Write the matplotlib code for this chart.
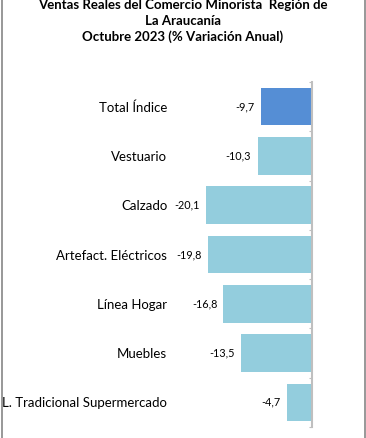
import matplotlib
matplotlib.use("Agg")
import matplotlib.pyplot as plt
from matplotlib.lines import Line2D

categories = ["Total Índice", "Vestuario", "Calzado", "Artefact. Eléctricos",
              "Línea Hogar", "Muebles", "L. Tradicional Supermercado"]
values = [-9.7, -10.3, -20.1, -19.8, -16.8, -13.5, -4.7]
value_labels = ["-9,7", "-10,3", "-20,1", "-19,8", "-16,8", "-13,5", "-4,7"]
colors = ["#558ED5"] + ["#93CDDD"] * 6
title_lines = ["Ventas Reales del Comercio Minorista  Región de",
               "La Araucanía",
               "Octubre 2023 (% Variación Anual)"]

plt.rcParams['font.family'] = ['Lato', 'DejaVu Sans']

W, H = 366, 438
fig = plt.figure(figsize=(W / 100, H / 100), dpi=100)
ax = fig.add_axes([180.5 / W, 11 / H, 131 / W, 345 / H])

ypos = list(range(len(categories)))
ax.barh(ypos, values, height=0.76, color=colors, edgecolor='none', zorder=2)

for y, v, lab in zip(ypos, values, value_labels):
    ax.annotate(lab, xy=(v, y), xytext=(-4.5, 0), textcoords='offset points',
                ha='right', va='center', fontsize=7.8, color='black')

ax.set_xlim(-25, 0)
ax.set_ylim(len(categories) - 0.5, -0.5)
ax.set_yticks(ypos)
ax.set_yticklabels(categories, fontsize=9.5)
ax.tick_params(axis='y', which='major', length=0, pad=9.5)
ax.set_yticks([i - 0.5 for i in range(len(categories) + 1)], minor=True)
ax.tick_params(axis='y', which='minor', left=False, right=True, direction='in',
               length=2.5, width=0.8, color='#BFBFBF')
ax.set_xticks([])
for s in ['left', 'top', 'bottom']:
    ax.spines[s].set_visible(False)
ax.spines['right'].set_color('#BFBFBF')
ax.spines['right'].set_linewidth(1.5)

for yy, t in zip([5, 21, 37], title_lines):
    fig.text(0.5, 1 - yy / H, t, ha='center', va='center', fontsize=9.5,
             fontweight='bold')

fig.add_artist(Line2D([1.5 / W, 1.5 / W], [0, 1], color='#868686', lw=1.2,
                      transform=fig.transFigure))
fig.add_artist(Line2D([364.5 / W, 364.5 / W], [0, 1], color='#868686', lw=1.2,
                      transform=fig.transFigure))

fig.savefig("out.png", dpi=100)
